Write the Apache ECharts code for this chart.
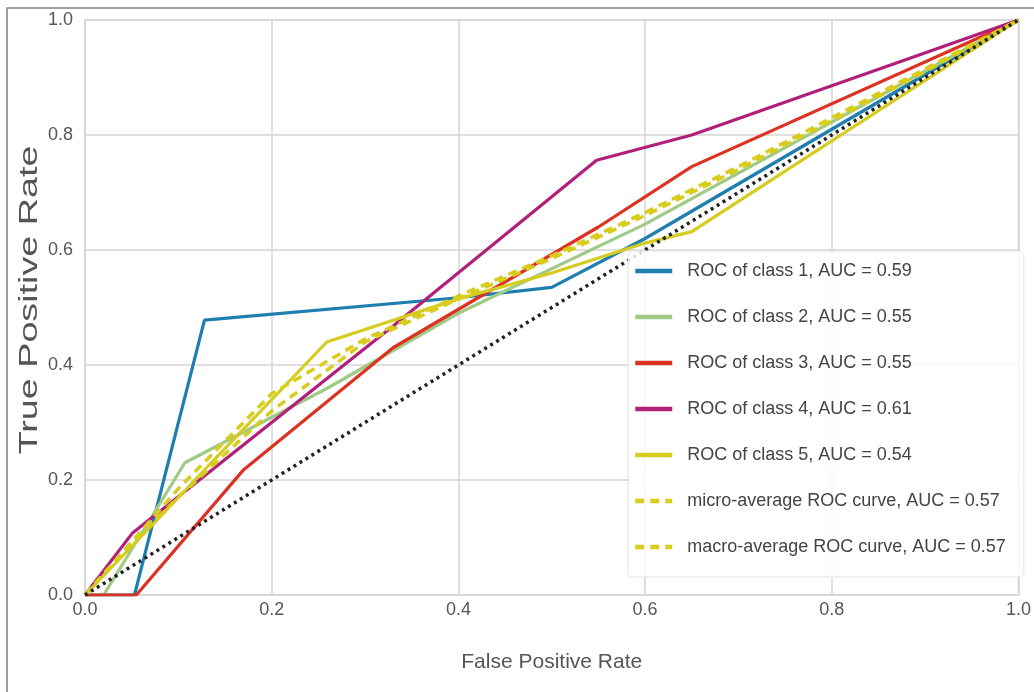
<!DOCTYPE html>
<html>
<head>
<meta charset="utf-8">
<script src="https://cdn.jsdelivr.net/npm/echarts@6/dist/echarts.min.js"></script>
<style>html,body{margin:0;padding:0;background:#fff;}#chart{width:1034px;height:692px;}</style>
</head>
<body>
<div id="chart"></div>
<script>
// ---- data ----
const seriesNames = [
  'ROC of class 1, AUC = 0.59',
  'ROC of class 2, AUC = 0.55',
  'ROC of class 3, AUC = 0.55',
  'ROC of class 4, AUC = 0.61',
  'ROC of class 5, AUC = 0.54',
  'micro-average ROC curve, AUC = 0.57',
  'macro-average ROC curve, AUC = 0.57'
];
const class1Fpr = [0, 0.053, 0.128, 0.40, 0.50, 0.60, 1.0];
const class1Tpr = [0, 0.0, 0.478, 0.517, 0.535, 0.62, 1.0];
const class2Fpr = [0, 0.02, 0.107, 0.26, 0.40, 0.60, 1.0];
const class2Tpr = [0, 0.0, 0.23, 0.36, 0.49, 0.645, 1.0];
const class3Fpr = [0, 0.055, 0.17, 0.33, 0.55, 0.65, 1.0];
const class3Tpr = [0, 0.0, 0.218, 0.43, 0.64, 0.745, 1.0];
const class4Fpr = [0, 0.051, 0.33, 0.548, 0.65, 1.0];
const class4Tpr = [0, 0.108, 0.468, 0.756, 0.80, 1.0];
const class5Fpr = [0, 0.077, 0.137, 0.259, 0.40, 0.50, 0.60, 0.65, 1.0];
const class5Tpr = [0, 0.13, 0.233, 0.44, 0.515, 0.56, 0.612, 0.632, 1.0];
const microFpr = [0, 0.10, 0.20, 0.30, 0.40, 0.50, 0.60, 0.70, 0.80, 0.90, 1.0];
const microTpr = [0, 0.185, 0.35, 0.445, 0.52, 0.59, 0.665, 0.745, 0.83, 0.915, 1.0];
const macroFpr = [0, 0.05, 0.10, 0.20, 0.30, 0.40, 0.50, 0.60, 0.70, 0.80, 0.90, 1.0];
const macroTpr = [0, 0.09, 0.17, 0.32, 0.44, 0.515, 0.585, 0.66, 0.74, 0.825, 0.91, 1.0];
const diagFpr = [0, 1];
const diagTpr = [0, 1];
const tickLabels = ['0.0', '0.2', '0.4', '0.6', '0.8', '1.0'];
const xTitle = 'False Positive Rate';
const yTitle = 'True Positive Rate';

// ---- styles ----
const colors = ['#1f7eb0', '#9fcb86', '#dd3222', '#b0207a', '#d6cb1f', '#d8cc1c', '#d8cc1c'];
const sans = '"Liberation Sans", Arial, sans-serif';

function zip(xs, ys) { return xs.map((x, i) => [x, ys[i]]); }
const curves = [
  [class1Fpr, class1Tpr], [class2Fpr, class2Tpr], [class3Fpr, class3Tpr],
  [class4Fpr, class4Tpr], [class5Fpr, class5Tpr], [microFpr, microTpr], [macroFpr, macroTpr]
];

const series = curves.map((c, i) => ({
  name: seriesNames[i],
  type: 'line',
  data: zip(c[0], c[1]),
  symbol: 'none',
  showSymbol: false,
  smooth: false,
  lineStyle: {
    color: colors[i],
    width: i >= 5 ? 3.5 : 3.2,
    type: i >= 5 ? [9, 6] : 'solid'
  },
  itemStyle: { color: colors[i] },
  z: 2
}));
series.push({
  name: 'diagonal',
  type: 'line',
  data: zip(diagFpr, diagTpr),
  symbol: 'none',
  lineStyle: { color: '#222', width: 3.5, type: [3, 4], cap: 'butt' },
  z: 3,
  silent: true
});

function tickFmt(v) {
  const idx = Math.round(v / 0.2);
  return tickLabels[idx] !== undefined ? tickLabels[idx] : '';
}

const chart = echarts.init(document.getElementById('chart'), null, { renderer: 'canvas' });
chart.setOption({
  animation: false,
  backgroundColor: '#ffffff',
  grid: {
    left: 85, right: 11, top: 20, bottom: 97,
    show: true, borderColor: '#d4d4d4', borderWidth: 1.5, backgroundColor: '#fff'
  },
  xAxis: {
    type: 'value', min: 0, max: 1, interval: 0.2,
    name: xTitle, nameLocation: 'middle', nameGap: 57,
    nameTextStyle: { fontFamily: sans, fontSize: 21, color: '#555' },
    axisLine: { show: false }, axisTick: { show: false },
    axisLabel: { formatter: tickFmt, fontFamily: sans, fontSize: 18, color: '#555', margin: 6 },
    splitLine: { show: true, lineStyle: { color: '#d4d4d4', width: 1.5 } }
  },
  yAxis: {
    type: 'value', min: 0, max: 1, interval: 0.2,
    axisLine: { show: false }, axisTick: { show: false },
    axisLabel: { formatter: tickFmt, fontFamily: sans, fontSize: 18, color: '#555', margin: 12 },
    splitLine: { show: true, lineStyle: { color: '#d4d4d4', width: 1.5 } }
  },
  legend: {
    orient: 'vertical', left: 628, top: 251,
    itemWidth: 37, itemHeight: 14, itemGap: 26,
    padding: [10, 18, 20, 5],
    backgroundColor: 'rgba(255,255,255,0.85)', borderColor: '#e2e2e2', borderWidth: 1, borderRadius: 5,
    itemStyle: { opacity: 0 },
    lineStyle: { width: 4.5 },
    textStyle: { fontFamily: sans, fontSize: 18, lineHeight: 20, color: '#444', padding: [0, 0, 0, 10] },
    data: seriesNames
  },
  graphic: [
    {
      type: 'rect', silent: true, z: 100,
      shape: { x: 7, y: 8, width: 1040, height: 700 },
      style: { fill: 'none', stroke: '#808080', lineWidth: 1.5 }
    },
    {
      type: 'text', silent: true,
      x: 30, y: 300, rotation: Math.PI / 2, scaleX: 1.45, scaleY: 1,
      style: {
        text: yTitle, fill: '#555', font: '26px "Liberation Sans", Arial, sans-serif',
        align: 'center', verticalAlign: 'middle'
      }
    }
  ],
  series: series
});
</script>
</body>
</html>
